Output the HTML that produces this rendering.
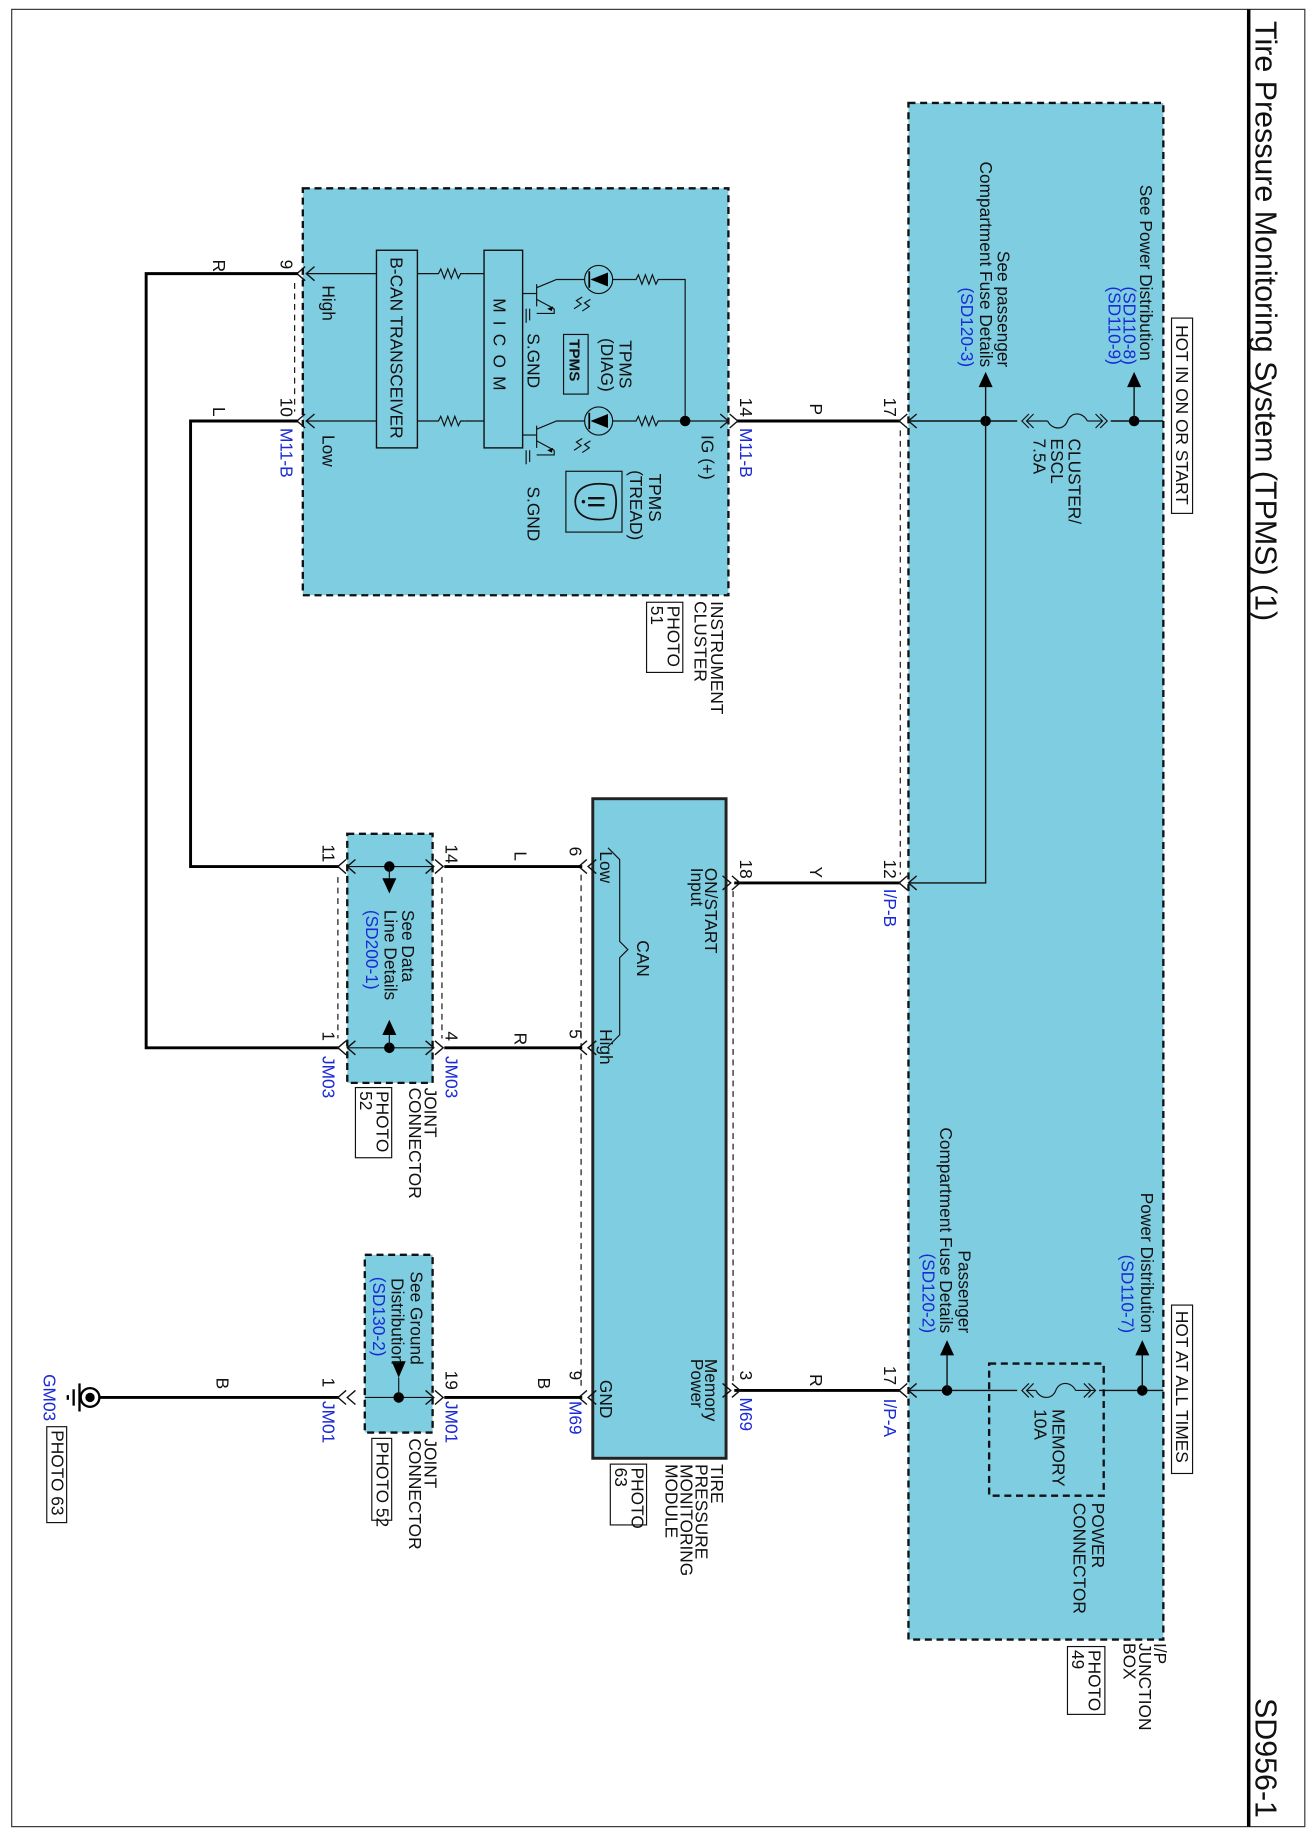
<!DOCTYPE html>
<html><head><meta charset="utf-8"><style>
html,body{margin:0;padding:0;background:#fff}
svg{display:block}
text{font-family:"Liberation Sans",sans-serif;font-size:14.8px;fill:#111}
.b{fill:#1a2bd6}
</style></head><body>
<svg width="1313" height="1836" viewBox="0 0 1123 1570" preserveAspectRatio="none" xmlns="http://www.w3.org/2000/svg">
<defs>
<g id="chL"><polyline points="7,-6 0,0 7,6" fill="none" stroke="#111" stroke-width="1.2"/><polyline points="-1,-6 -8,0 -1,6" fill="none" stroke="#111" stroke-width="1.2"/></g>
<g id="chR"><polyline points="-7,-6 0,0 -7,6" fill="none" stroke="#111" stroke-width="1.2"/><polyline points="1,-6 8,0 1,6" fill="none" stroke="#111" stroke-width="1.2"/></g>
<g id="res"><polyline points="0,0 3,0 5,-4 8,4 11,-4 14,4 17,-4 20,4 22,0 25,0" fill="none" stroke="#111" stroke-width="1"/></g>
</defs>
<!-- frame -->
<rect x="10" y="8" width="1106" height="1554" fill="none" stroke="#333" stroke-width="1"/>
<line x1="1068" y1="8" x2="1068" y2="1562" stroke="#000" stroke-width="3"/>
<text style="font-size:26px" transform="translate(1074,18) rotate(90)">Tire Pressure Monitoring System (TPMS) (1)</text>
<text style="font-size:26px" transform="translate(1074,1452) rotate(90)">SD956-1</text>

<!-- I/P junction box -->
<rect x="777" y="88" width="218" height="1314" fill="#7fcde1" stroke="#111" stroke-width="2" stroke-dasharray="6,4"/>
<rect x="1002" y="272" width="18" height="167" fill="#fff" stroke="#111" stroke-width="1"/>
<text transform="translate(1006,278) rotate(90)">HOT IN ON OR START</text>
<rect x="1002" y="1116" width="18" height="144" fill="#fff" stroke="#111" stroke-width="1"/>
<text transform="translate(1006,1121) rotate(90)">HOT AT ALL TIMES</text>

<!-- top hot wire -->
<line x1="777" y1="360" x2="995" y2="360" stroke="#111" stroke-width="1.2"/>
<line x1="630" y1="360" x2="770" y2="360" stroke="#000" stroke-width="2.5"/>
<use href="#chL" x="777" y="360"/>
<circle cx="970" cy="360" r="4.5" fill="#000"/>
<line x1="970" y1="360" x2="970" y2="330" stroke="#111" stroke-width="1.2"/>
<polygon points="970,318 964,331 976,331" fill="#000"/>
<circle cx="843" cy="360" r="4.5" fill="#000"/>
<line x1="843" y1="360" x2="843" y2="330" stroke="#111" stroke-width="1.2"/>
<polygon points="843,318 837,331 849,331" fill="#000"/>
<rect x="870" y="354" width="80" height="12" fill="#7fcde1"/>
<polyline points="937,354 943,360 937,366" fill="none" stroke="#111"/><polyline points="941,354 947,360 941,366" fill="none" stroke="#111"/>
<polyline points="884,354 878,360 884,366" fill="none" stroke="#111"/><polyline points="880,354 874,360 880,366" fill="none" stroke="#111"/>
<line x1="943" y1="360" x2="930" y2="360" stroke="#111"/><line x1="878" y1="360" x2="896" y2="360" stroke="#111"/>
<path d="M930,360 C926,352 916,352 913,360 C910,368 900,368 896,360" fill="none" stroke="#111"/>
<text transform="translate(975,158) rotate(90)">See Power Distribution</text>
<text class="b" text-anchor="end" transform="translate(961,312) rotate(90)">(SD110-8)</text>
<text class="b" text-anchor="end" transform="translate(948,312) rotate(90)">(SD110-9)</text>
<text text-anchor="end" transform="translate(853,314) rotate(90)">See passenger</text>
<text text-anchor="end" transform="translate(838,314) rotate(90)">Compartment Fuse Details</text>
<text class="b" text-anchor="end" transform="translate(822,314) rotate(90)">(SD120-3)</text>
<text transform="translate(914,375) rotate(90)">CLUSTER/</text>
<text transform="translate(899,375) rotate(90)">ESCL</text>
<text transform="translate(884,375) rotate(90)">7.5A</text>
<text transform="translate(756,340) rotate(90)">17</text>
<text transform="translate(693,345) rotate(90)">P</text>
<line x1="770" y1="368" x2="770" y2="748" stroke="#111" stroke-width="1" stroke-dasharray="5,4"/>

<!-- 843 down to I/P-B -->
<polyline points="843,360 843,755 777,755" fill="none" stroke="#111" stroke-width="1.2"/>
<line x1="628" y1="755" x2="770" y2="755" stroke="#000" stroke-width="2.5"/>
<use href="#chL" x="777" y="755"/>
<text transform="translate(756,735) rotate(90)">12</text>
<text class="b" transform="translate(756,760) rotate(90)">I/P-B</text>
<text transform="translate(693,741) rotate(90)">Y</text>

<!-- bottom hot wire -->
<line x1="777" y1="1189" x2="995" y2="1189" stroke="#111" stroke-width="1.2"/>
<line x1="628" y1="1189" x2="770" y2="1189" stroke="#000" stroke-width="2.5"/>
<use href="#chL" x="777" y="1189"/>
<rect x="846" y="1166" width="98" height="113" fill="none" stroke="#111" stroke-width="2" stroke-dasharray="6,4"/>
<circle cx="977" cy="1189" r="4.5" fill="#000"/>
<line x1="977" y1="1189" x2="977" y2="1158" stroke="#111" stroke-width="1.2"/>
<polygon points="977,1146 971,1159 983,1159" fill="#000"/>
<circle cx="810" cy="1189" r="4.5" fill="#000"/>
<line x1="810" y1="1189" x2="810" y2="1158" stroke="#111" stroke-width="1.2"/>
<polygon points="810,1146 804,1159 816,1159" fill="#000"/>
<rect x="870" y="1183" width="70" height="12" fill="#7fcde1"/>
<polyline points="927,1183 933,1189 927,1195" fill="none" stroke="#111"/><polyline points="931,1183 937,1189 931,1195" fill="none" stroke="#111"/>
<polyline points="884,1183 878,1189 884,1195" fill="none" stroke="#111"/><polyline points="880,1183 874,1189 880,1195" fill="none" stroke="#111"/>
<path d="M920,1189 C916,1181 906,1181 903,1189 C900,1197 890,1197 886,1189" fill="none" stroke="#111"/>
<line x1="937" y1="1189" x2="920" y2="1189" stroke="#111"/><line x1="878" y1="1189" x2="886" y2="1189" stroke="#111"/>
<text text-anchor="end" transform="translate(976,1140) rotate(90)">Power Distribution</text>
<text class="b" text-anchor="end" transform="translate(959,1140) rotate(90)">(SD110-7)</text>
<text text-anchor="end" transform="translate(820,1140) rotate(90)">Passenger</text>
<text text-anchor="end" transform="translate(804,1140) rotate(90)">Compartment Fuse Details</text>
<text class="b" text-anchor="end" transform="translate(789,1140) rotate(90)">(SD120-2)</text>
<text transform="translate(900,1205) rotate(90)">MEMORY</text>
<text transform="translate(885,1205) rotate(90)">10A</text>
<text transform="translate(934,1285) rotate(90)">POWER</text>
<text transform="translate(918,1285) rotate(90)">CONNECTOR</text>
<text transform="translate(756,1168) rotate(90)">17</text>
<text class="b" transform="translate(756,1196) rotate(90)">I/P-A</text>
<text transform="translate(693,1175) rotate(90)">R</text>
<text transform="translate(987,1405) rotate(90)">I/P</text>
<text transform="translate(974,1405) rotate(90)">JUNCTION</text>
<text transform="translate(961,1405) rotate(90)">BOX</text>
<rect x="913" y="1408" width="32" height="58" fill="#fff" stroke="#111"/>
<text transform="translate(931,1411) rotate(90)">PHOTO</text>
<text transform="translate(917,1411) rotate(90)">49</text>

<!-- Instrument cluster -->
<rect x="259" y="161" width="364" height="348" fill="#7fcde1" stroke="#111" stroke-width="2" stroke-dasharray="6,4"/>
<use href="#chR" x="623" y="360"/>
<rect x="322" y="214" width="35" height="169" fill="none" stroke="#111" stroke-width="1.2"/>
<text transform="translate(334,220) rotate(90)">B-CAN TRANSCEIVER</text>
<rect x="414" y="214" width="33" height="169" fill="none" stroke="#111" stroke-width="1.2"/>
<text style="letter-spacing:7px" transform="translate(422,255) rotate(90)">MICOM</text>
<line x1="262" y1="234" x2="322" y2="234" stroke="#111"/>
<line x1="262" y1="360" x2="322" y2="360" stroke="#111"/>
<use href="#chL" x="262" y="234"/><use href="#chL" x="262" y="360"/>
<line x1="357" y1="234" x2="372" y2="234" stroke="#111"/><use href="#res" x="372" y="234"/><line x1="397" y1="234" x2="414" y2="234" stroke="#111"/>
<line x1="357" y1="360" x2="372" y2="360" stroke="#111"/><use href="#res" x="372" y="360"/><line x1="397" y1="360" x2="414" y2="360" stroke="#111"/>
<text transform="translate(276,244) rotate(90)">High</text>
<text transform="translate(276,372) rotate(90)">Low</text>
<!-- transistors + LEDs -->
<g stroke="#111" fill="none" stroke-width="1">
<line x1="447" y1="251" x2="459" y2="251"/><line x1="459" y1="243" x2="459" y2="262"/>
<polyline points="459,246 476,239 500,239"/><line x1="459" y1="256" x2="474" y2="264"/>
<polyline points="474,264 474,268 459,268"/>
<line x1="447" y1="372" x2="459" y2="372"/><line x1="459" y1="364" x2="459" y2="383"/>
<polyline points="459,367 476,360 500,360"/><line x1="459" y1="377" x2="474" y2="385"/>
<polyline points="474,385 474,389 459,389"/>
<line x1="450" y1="264" x2="450" y2="276"/><line x1="453" y1="264" x2="453" y2="274"/>
<line x1="450" y1="385" x2="450" y2="397"/><line x1="453" y1="385" x2="453" y2="395"/>
<circle cx="512" cy="239" r="12"/><circle cx="512" cy="360" r="12"/>
<line x1="524" y1="239" x2="541" y2="239"/><line x1="524" y1="360" x2="541" y2="360"/>
<polyline points="566,239 586,239 586,360"/>
<line x1="566" y1="360" x2="623" y2="360"/>
<path d="M505,256 l-5,3 l4,3 l-6,4 M498,254 l-5,3 l4,3 l-6,4"/>
<path d="M505,377 l-5,3 l4,3 l-6,4 M498,375 l-5,3 l4,3 l-6,4"/>
</g>
<polygon points="473,262 468,264 472,266" fill="#000"/><polygon points="473,383 468,385 472,387" fill="#000"/>
<polygon points="504,233 504,245 519,239" transform="rotate(180 512 239)" fill="#000"/>
<line x1="504" y1="232" x2="504" y2="246" stroke="#000" stroke-width="1.5"/>
<polygon points="504,354 504,366 519,360" transform="rotate(180 512 360)" fill="#000"/>
<line x1="504" y1="353" x2="504" y2="367" stroke="#000" stroke-width="1.5"/>
<use href="#res" x="541" y="239"/><use href="#res" x="541" y="360"/>
<circle cx="586" cy="360" r="4.5" fill="#000"/>
<text transform="translate(451,285) rotate(90)">S.GND</text>
<text transform="translate(451,416) rotate(90)">S.GND</text>
<text transform="translate(530,291) rotate(90)">TPMS</text>
<text transform="translate(514,289) rotate(90)">(DIAG)</text>
<rect x="482" y="286" width="21" height="51" fill="none" stroke="#111"/>
<text style="font-weight:bold;font-size:13px" transform="translate(487,290) rotate(90)">TPMS</text>
<text transform="translate(555,405) rotate(90)">TPMS</text>
<text transform="translate(539,402) rotate(90)">(TREAD)</text>
<rect x="484" y="403" width="48" height="52" fill="none" stroke="#111"/>
<path d="M524,415 C528,422 528,436 524,443 M524,415 C500,410 492,420 492,429 C492,438 500,448 524,443" fill="none" stroke="#111" stroke-width="1.5"/>
<line x1="503" y1="426" x2="517" y2="426" stroke="#111" stroke-width="2"/><line x1="503" y1="432" x2="517" y2="432" stroke="#111" stroke-width="2"/>
<circle cx="499" cy="429" r="1.5" fill="#111"/>
<text transform="translate(600,372) rotate(90)">IG (+)</text>
<text transform="translate(633,340) rotate(90)">14</text>
<text class="b" transform="translate(633,366) rotate(90)">M11-B</text>
<text transform="translate(240,222) rotate(90)">9</text>
<text transform="translate(240,340) rotate(90)">10</text>
<text class="b" transform="translate(240,366) rotate(90)">M11-B</text>
<line x1="252" y1="242" x2="252" y2="352" stroke="#111" stroke-dasharray="5,4"/>
<text transform="translate(608,514) rotate(90)">INSTRUMENT</text>
<text transform="translate(594,514) rotate(90)">CLUSTER</text>
<rect x="553" y="515" width="31" height="60" fill="#fff" stroke="#111"/>
<text transform="translate(571,518) rotate(90)">PHOTO</text>
<text transform="translate(557,518) rotate(90)">51</text>

<!-- R and L long wires -->
<polyline points="255,234 125,234 125,896 290,896" fill="none" stroke="#000" stroke-width="2.5"/>
<polyline points="255,360 163,360 163,741 290,741" fill="none" stroke="#000" stroke-width="2.5"/>
<text transform="translate(182,222) rotate(90)">R</text>
<text transform="translate(182,348) rotate(90)">L</text>

<!-- TPMS module -->
<rect x="507" y="683" width="114" height="564" fill="#7fcde1" stroke="#222" stroke-width="2.5"/>
<use href="#chR" x="625" y="755"/><use href="#chR" x="625" y="1189"/>
<use href="#chL" x="503" y="741"/><use href="#chL" x="503" y="896"/><use href="#chL" x="503" y="1195"/>
<line x1="627" y1="762" x2="627" y2="1182" stroke="#111" stroke-dasharray="5,4"/>
<line x1="497" y1="748" x2="497" y2="1188" stroke="#111" stroke-dasharray="5,4"/>
<text transform="translate(603,742) rotate(90)">ON/START</text>
<text transform="translate(591,742) rotate(90)">Input</text>
<text transform="translate(603,1162) rotate(90)">Memory</text>
<text transform="translate(591,1162) rotate(90)">Power</text>
<text transform="translate(513,1180) rotate(90)">GND</text>
<text transform="translate(513,728) rotate(90)">Low</text>
<text transform="translate(513,880) rotate(90)">High</text>
<text transform="translate(545,804) rotate(90)">CAN</text>
<path d="M520,725 L530,735 L530,805 L537,812 L530,819 L530,885 L520,895" fill="none" stroke="#111"/>
<text transform="translate(633,735) rotate(90)">18</text>
<text transform="translate(633,1172) rotate(90)">3</text>
<text class="b" transform="translate(633,1195) rotate(90)">M69</text>
<text transform="translate(487,724) rotate(90)">6</text>
<text transform="translate(487,880) rotate(90)">5</text>
<text transform="translate(487,1172) rotate(90)">9</text>
<text class="b" transform="translate(487,1198) rotate(90)">M69</text>
<text transform="translate(608,1252) rotate(90)">TIRE</text>
<text transform="translate(595,1252) rotate(90)">PRESSURE</text>
<text transform="translate(582,1252) rotate(90)">MONITORING</text>
<text transform="translate(569,1252) rotate(90)">MODULE</text>
<rect x="522" y="1252" width="31" height="52" fill="#fff" stroke="#111"/>
<text transform="translate(540,1255) rotate(90)">PHOTO</text>
<text transform="translate(526,1255) rotate(90)">63</text>

<!-- JM03 -->
<line x1="380" y1="741" x2="498" y2="741" stroke="#000" stroke-width="2.5"/>
<line x1="380" y1="896" x2="498" y2="896" stroke="#000" stroke-width="2.5"/>
<rect x="297" y="713" width="73" height="213" fill="#7fcde1" stroke="#111" stroke-width="2" stroke-dasharray="6,4"/>
<line x1="297" y1="741" x2="370" y2="741" stroke="#111"/><line x1="297" y1="896" x2="370" y2="896" stroke="#111"/>
<use href="#chL" x="297" y="741"/><use href="#chL" x="297" y="896"/>
<use href="#chR" x="371" y="741"/><use href="#chR" x="371" y="896"/>
<circle cx="333" cy="741" r="4.5" fill="#000"/><circle cx="333" cy="896" r="4.5" fill="#000"/>
<line x1="333" y1="741" x2="333" y2="752" stroke="#111"/><polygon points="327,751 339,751 333,764" fill="#000"/>
<line x1="333" y1="896" x2="333" y2="884" stroke="#111"/><polygon points="327,885 339,885 333,872" fill="#000"/>
<line x1="289" y1="750" x2="289" y2="888" stroke="#111" stroke-dasharray="5,4"/>
<line x1="378" y1="750" x2="378" y2="888" stroke="#111" stroke-dasharray="5,4"/>
<text transform="translate(344,778) rotate(90)">See Data</text>
<text transform="translate(329,778) rotate(90)">Line Details</text>
<text class="b" transform="translate(313,778) rotate(90)">(SD200-1)</text>
<text transform="translate(381,722) rotate(90)">14</text>
<text transform="translate(276,722) rotate(90)">11</text>
<text transform="translate(381,882) rotate(90)">4</text>
<text transform="translate(276,882) rotate(90)">1</text>
<text class="b" transform="translate(381,903) rotate(90)">JM03</text>
<text class="b" transform="translate(276,903) rotate(90)">JM03</text>
<text transform="translate(440,728) rotate(90)">L</text>
<text transform="translate(440,883) rotate(90)">R</text>
<text transform="translate(363,930) rotate(90)">JOINT</text>
<text transform="translate(350,930) rotate(90)">CONNECTOR</text>
<rect x="304" y="930" width="31" height="60" fill="#fff" stroke="#111"/>
<text transform="translate(322,933) rotate(90)">PHOTO</text>
<text transform="translate(308,933) rotate(90)">52</text>

<!-- JM01 -->
<line x1="380" y1="1195" x2="498" y2="1195" stroke="#000" stroke-width="2.5"/>
<line x1="84" y1="1195" x2="290" y2="1195" stroke="#000" stroke-width="2.5"/>
<rect x="312" y="1073" width="58" height="152" fill="#7fcde1" stroke="#111" stroke-width="2" stroke-dasharray="6,4"/>
<line x1="312" y1="1195" x2="370" y2="1195" stroke="#111"/>
<use href="#chL" x="297" y="1195"/><use href="#chR" x="371" y="1195"/>
<circle cx="341" cy="1195" r="4.5" fill="#000"/>
<line x1="341" y1="1195" x2="341" y2="1178" stroke="#111"/><polygon points="335,1164 347,1164 341,1178" fill="#000"/>
<text text-anchor="end" transform="translate(351,1167) rotate(90)">See Ground</text>
<text text-anchor="end" transform="translate(335,1167) rotate(90)">Distribution</text>
<text class="b" text-anchor="end" transform="translate(319,1160) rotate(90)">(SD130-2)</text>
<text transform="translate(381,1172) rotate(90)">19</text>
<text transform="translate(276,1178) rotate(90)">1</text>
<text class="b" transform="translate(381,1198) rotate(90)">JM01</text>
<text class="b" transform="translate(276,1198) rotate(90)">JM01</text>
<text transform="translate(460,1178) rotate(90)">B</text>
<text transform="translate(185,1178) rotate(90)">B</text>
<text transform="translate(363,1230) rotate(90)">JOINT</text>
<text transform="translate(350,1230) rotate(90)">CONNECTOR</text>
<rect x="318" y="1230" width="17" height="70" fill="#fff" stroke="#111"/>
<text transform="translate(322,1233) rotate(90)">PHOTO 52</text>
<!-- ground -->
<circle cx="77" cy="1195" r="8" fill="#fff" stroke="#000" stroke-width="2"/>
<circle cx="77" cy="1195" r="4" fill="#000"/>
<line x1="68" y1="1183" x2="68" y2="1207" stroke="#000" stroke-width="2"/>
<line x1="63" y1="1188" x2="63" y2="1202" stroke="#000" stroke-width="2"/>
<line x1="58" y1="1193" x2="58" y2="1197" stroke="#000" stroke-width="2"/>
<text class="b" transform="translate(37,1175) rotate(90)">GM03</text>
<rect x="40" y="1220" width="17" height="82" fill="#fff" stroke="#111"/>
<text transform="translate(44,1223) rotate(90)">PHOTO 63</text>
</svg>
</body></html>
